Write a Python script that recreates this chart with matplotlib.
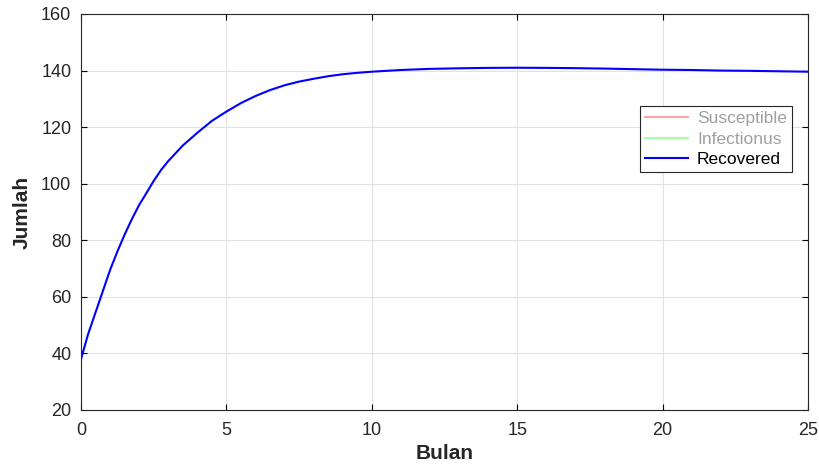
import matplotlib.pyplot as plt
from matplotlib.lines import Line2D

plt.rcParams['font.family'] = ['Liberation Sans', 'DejaVu Sans']

bulan = [0, 0.25, 0.5, 0.75, 1, 1.25, 1.5, 1.75, 2, 2.25, 2.5, 2.75, 3, 3.5, 4,
         4.5, 5, 5.5, 6, 6.5, 7, 7.5, 8, 8.5, 9, 9.5, 10, 11, 12, 13, 14, 15, 16,
         17, 18, 19, 20, 21, 22, 23, 24, 25]
recovered = [38, 47, 54.5, 62, 69.5, 76, 82, 87.5, 92.5, 96.7, 101, 104.8, 108,
             113.5, 118, 122.2, 125.5, 128.5, 131, 133.1, 134.8, 136.1, 137.1,
             138, 138.7, 139.2, 139.6, 140.2, 140.6, 140.8, 140.95, 141, 140.95,
             140.85, 140.7, 140.5, 140.3, 140.2, 140.0, 139.9, 139.75, 139.6]
labels = ['Susceptible', 'Infectionus', 'Recovered']

fig = plt.figure(figsize=(8.19, 4.65), dpi=100)
ax = fig.add_axes([0.0989, 0.1183, 0.8877, 0.8516])
ax.plot(bulan, recovered, color='#0000ff', lw=1.5)

ax.set_xlim(0, 25)
ax.set_ylim(20, 160)
ax.set_xticks(range(0, 26, 5))
ax.set_yticks(range(20, 161, 20))
ax.grid(color='#e3e3e3', lw=0.8)
ax.tick_params(direction='in', top=True, right=True, labelsize=13,
               labelcolor='#262626', length=4, width=0.8)
ax.tick_params(axis='x', pad=9)
ax.tick_params(axis='y', pad=7)
for s in ax.spines.values():
    s.set_color('#262626')
    s.set_linewidth(0.8)
ax.set_xlabel('Bulan', fontsize=15, fontweight='bold', color='#262626', labelpad=3)
ax.set_ylabel('Jumlah', fontsize=15, fontweight='bold', color='#262626', labelpad=7)

handles = [Line2D([], [], color='#ffa6a6', lw=1.5),
           Line2D([], [], color='#a6ffa6', lw=1.5),
           Line2D([], [], color='#0000ff', lw=1.5)]
leg = ax.legend(handles, labels, loc='upper right', bbox_to_anchor=(0.978, 0.768),
                fontsize=12.5, fancybox=False, edgecolor='#262626', framealpha=1,
                handlelength=2.5, borderpad=0.3, labelspacing=0.3,
                handletextpad=0.5, borderaxespad=0)
leg.get_frame().set_linewidth(0.8)
for t, c in zip(leg.get_texts(), ['#a0a0a0', '#a0a0a0', '#000000']):
    t.set_color(c)

fig.savefig('out.png', dpi=100)
